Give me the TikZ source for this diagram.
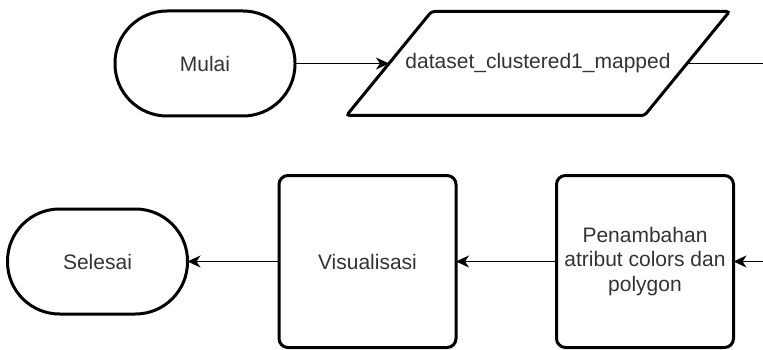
\documentclass[tikz,border=0pt]{standalone}
\usepackage{fontspec}
\setmainfont{Liberation Sans}
\usetikzlibrary{arrows.meta}

\definecolor{txtgray}{HTML}{333333}

\tikzstyle{every node} = [font=\fontsize{21}{24.5}\selectfont, text=txtgray, outer sep=0pt]
\tikzstyle{terminal} = [draw=black, line width=3pt, rounded corners=52pt, minimum width=180pt, minimum height=105pt]
\tikzstyle{process} = [draw=black, line width=3pt, rounded corners=9pt, minimum width=177pt, minimum height=172pt, align=center]
\tikzstyle{border} = [draw=black, line width=3pt, rounded corners=3pt]
\tikzstyle{flow} = [line width=1.6pt, black, -{Stealth[length=13pt, width=12pt, inset=4pt]}]

\begin{document}
\begin{tikzpicture}[x=1pt, y=-1pt]
    \useasboundingbox (0,0) rectangle (763,350);

    % Top row
    \node[terminal] (mulai) at (205,63.5) {Mulai};
    \node (data) at (538,63.5) {dataset\_clustered1\_mapped};
    \draw[border] ([shift={(-191.5,52)}]data.center) -- ([shift={(-106.5,-52)}]data.center)
        -- ([shift={(191.5,-52)}]data.center) -- ([shift={(106.5,52)}]data.center) -- cycle;
    \coordinate (dataIn) at ([xshift=-149pt]data.center);
    \coordinate (dataOut) at ([xshift=149pt]data.center);
    \coordinate (outR) at (763,63.5);

    % Bottom row
    \coordinate (inR) at (763,261.5);
    \node[process] (tambah) at (645,261.5) {Penambahan\\atribut colors dan\\polygon};
    \node[process] (visual) at (367.5,261.5) {Visualisasi};
    \node[terminal] (selesai) at (97.5,261.5) {Selesai};

    % Connectors
    \draw[flow] (mulai) -- (dataIn);
    \draw[line width=1.6pt] (dataOut) -- (outR);
    \draw[flow] (inR) -- (tambah);
    \draw[flow] (tambah) -- (visual);
    \draw[flow] (visual) -- (selesai);
\end{tikzpicture}
\end{document}
